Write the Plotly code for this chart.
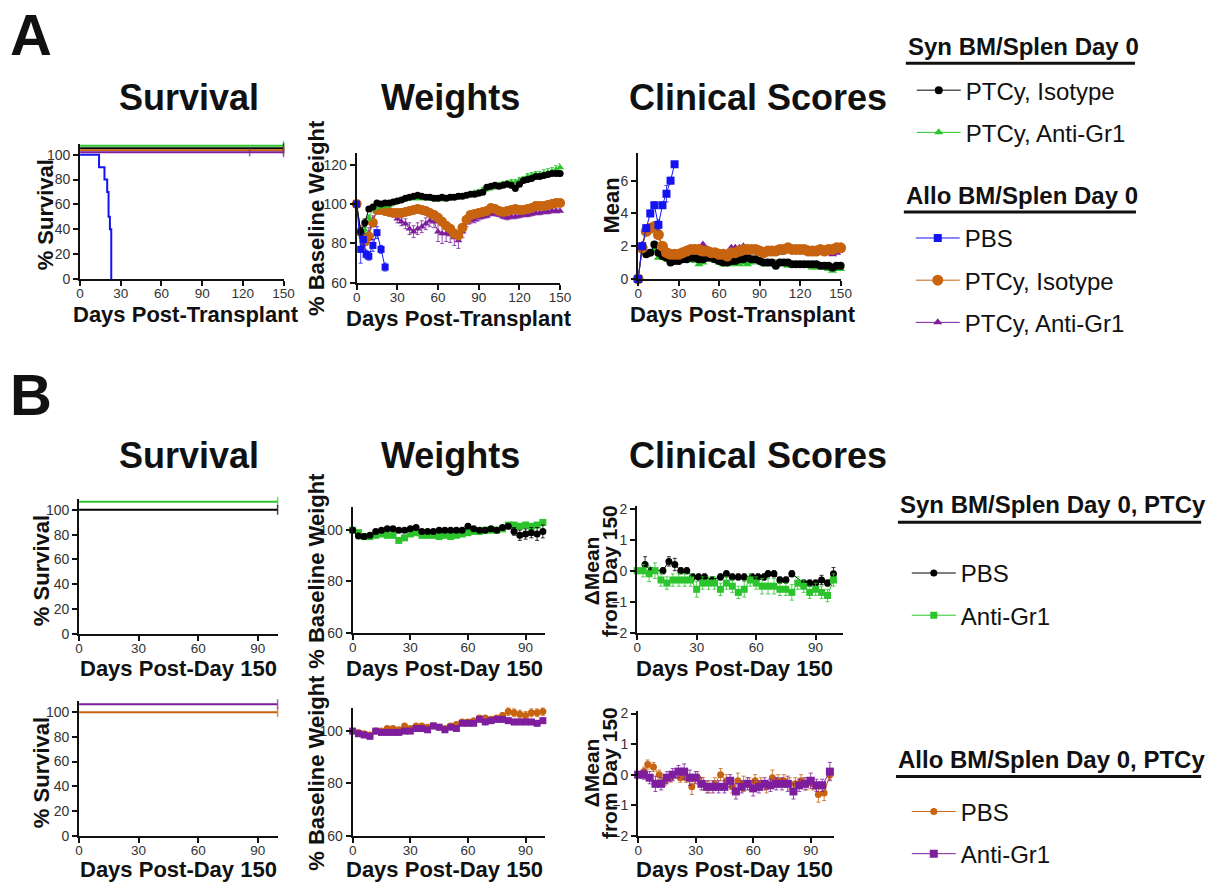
import plotly.graph_objects as go

W, H = 1225, 890
FONT = "Liberation Sans, Arial, sans-serif"

BLACK = "#000000"
GREEN = "#2cc42c"
BLUE = "#1414f0"
ORANGE = "#c8640f"
PURPLE = "#7e1e9e"

# ---------------- Panel A data ----------------
days_A = [0, 3, 6, 9, 12, 15, 18, 21, 24, 27, 30, 33, 36, 39, 42, 45, 48, 51, 54, 57,
          60, 63, 66, 69, 72, 75, 78, 81, 84, 87, 90, 93, 96, 99, 102, 105, 108, 111,
          114, 117, 120, 123, 126, 129, 132, 135, 138, 141, 144, 147, 150]

# survival (displayed % survival, GraphPad-nudged lines)
surv_A_days_flat = [0, 150]
surv_A_syn_iso = [105.3, 105.3]
surv_A_syn_gr1 = [107.2, 107.2]
surv_A_allo_iso = [103.6, 103.6]
surv_A_allo_gr1_days = [0, 125, 150]
surv_A_allo_gr1 = [102.0, 102.0, 102.0]
surv_A_pbs_days = [0, 14, 18, 20, 21, 22, 23]
surv_A_pbs = [100, 90, 80, 70, 50, 40, 0]

# weights (% baseline)
wt_A_syn_iso = [100, 86, 90.5, 97.5, 98.5, 100.5, 100, 100.5, 100.5, 101, 101.5, 102, 103, 103.5,
                104, 104.5, 104, 103.5, 103.5, 103, 103, 103.5, 103, 103.5, 103.5, 104, 104,
                104.5, 105, 105, 105.5, 106, 108.5, 109, 109.5, 109, 109.5, 110, 109.5, 108,
                110, 112, 112.5, 113, 114, 114, 114.5, 115, 115.5, 115.5, 115.5]
wt_A_syn_iso_err = [0, 2, 2, 1, 1, 1, 1, 1, 1, 1, 1, 1, 1, 1, 1, 1, 1, 1, 1, 1, 1, 1, 1, 1, 1, 1,
                    1, 1, 1, 1, 1, 1, 1, 1, 1, 1, 1, 1, 1, 1.5, 1, 1, 1, 1, 1, 1, 1, 1, 1, 1, 1.5]
wt_A_syn_gr1 = [100, 85, 87, 93, 97.5, 98.5, 99, 99, 99.5, 100.5, 101.5, 102, 102.5, 103, 103, 103,
                103, 103.5, 103, 102.5, 102.5, 102.5, 103, 103, 103.5, 103.5, 104, 104.5, 105,
                105.5, 106, 107, 108, 108.5, 109, 109.5, 110, 110.5, 111, 111, 112, 112.5, 114,
                114.5, 115, 115, 115.5, 116, 116.5, 117.5, 118.5]
wt_A_syn_gr1_err = [0, 2, 2, 1.5, 1, 1, 1, 1, 1, 1, 1, 1, 1, 1, 1, 1, 1, 1, 1, 1, 1, 1, 1, 1, 1,
                    1, 1, 1, 1, 1.5, 1.5, 1.5, 1.5, 1.5, 1.5, 1.5, 1.5, 1.5, 1.5, 1.5, 1.5, 1.5,
                    1.5, 1.5, 1.5, 1.5, 2, 2, 2, 2, 2]
wt_A_allo_iso = [100, 86, 81, 83.5, 90.5, 97, 97, 96.5, 96, 95.5, 95.5, 95.5, 96, 96.5, 97, 97.5,
                 97, 96.5, 95.5, 94.5, 93, 91, 89, 87.5, 85, 84, 88, 92, 94.5, 95, 95.5, 96,
                 96.5, 98, 97.5, 96.5, 96, 96.5, 97, 97.5, 97, 97, 97.5, 98, 99, 99, 99, 99.5,
                 100, 100.5, 100.5]
wt_A_allo_gr1 = [100, 86, 80, 85, 92, 96.5, 96.5, 96, 95.5, 95, 92.5, 91, 90, 87.5, 86, 87.5, 88.5,
                 90, 91.5, 91, 86, 85, 85, 84.5, 83, 81.5, 86, 90.5, 91.5, 92, 93, 93.5, 94, 95,
                 95, 94.5, 93.5, 93, 93.5, 93.5, 94, 94.5, 94.5, 95, 95.5, 95.5, 96, 96, 96.5,
                 96.5, 96.5]
wt_A_allo_gr1_err = [0, 3, 3, 3, 2, 1.5, 1.5, 1.5, 1.5, 1.5, 2, 2, 2.5, 3, 3, 3, 3, 3, 3, 3, 5, 5,
                     4, 4, 4, 4, 3, 2, 1.5, 1.5, 1.5, 1, 1, 1, 1, 1, 1, 1, 1, 1, 1, 1, 1, 1, 1, 1,
                     1, 1, 1, 1, 1]
wt_A_pbs_days = [0, 3, 5, 7, 9, 12, 15, 18, 21]
wt_A_pbs = [100, 77, 82, 74.5, 73.5, 79, 85.5, 77, 68]
wt_A_pbs_err = [0, 7, 3, 2, 2, 3, 3, 2, 2]

# clinical score means
cs_A_syn_iso = [0, 1.8, 1.5, 1.6, 2.1, 1.6, 1.4, 1.3, 1.0, 1.1, 1.1, 1.2, 1.2, 1.3, 1.3, 1.2, 1.2,
                1.3, 1.3, 1.2, 1.1, 1.0, 1.0, 1.1, 1.1, 1.2, 1.2, 1.3, 1.2, 1.2, 1.1, 1.0, 1.0,
                1.0, 0.8, 1.0, 1.0, 1.0, 0.9, 0.9, 0.9, 0.9, 0.9, 0.9, 0.9, 0.8, 0.8, 0.8, 0.7,
                0.8, 0.8]
cs_A_syn_gr1 = [0, 2.0, 1.6, 1.6, 1.8, 1.3, 1.3, 1.2, 1.1, 1.1, 1.2, 1.1, 1.2, 1.2, 1.1, 0.9, 1.0,
                1.2, 1.3, 1.1, 1.0, 0.9, 0.9, 0.9, 1.0, 0.9, 1.0, 0.9, 1.0, 1.1, 1.1, 0.9, 0.9,
                0.9, 1.0, 1.0, 0.9, 0.8, 0.9, 0.8, 0.8, 0.8, 0.8, 0.7, 0.7, 0.8, 0.7, 0.6, 0.5,
                0.6, 0.6]
cs_A_allo_iso = [0, 1.9, 2.9, 3.1, 3.2, 2.7, 2.0, 1.6, 1.5, 1.5, 1.5, 1.6, 1.7, 1.8, 1.8, 1.8, 1.7,
                 1.7, 1.6, 1.6, 1.5, 1.5, 1.4, 1.6, 1.6, 1.7, 1.8, 1.8, 1.8, 1.8, 1.7, 1.6, 1.7,
                 1.7, 1.7, 1.8, 1.8, 1.9, 1.8, 1.8, 1.8, 1.8, 1.7, 1.7, 1.7, 1.8, 1.7, 1.8, 1.8,
                 1.9, 1.9]
cs_A_allo_gr1 = [0, 2.1, 2.8, 3.0, 3.0, 2.6, 1.9, 1.6, 1.5, 1.5, 1.6, 1.7, 1.8, 1.9, 1.9, 1.9, 2.1,
                 1.8, 1.7, 1.6, 1.5, 1.6, 1.6, 1.9, 1.9, 1.9, 2.0, 1.9, 1.8, 1.8, 1.7, 1.7, 1.6,
                 1.6, 1.6, 1.6, 1.7, 1.7, 1.8, 1.8, 1.7, 1.7, 1.8, 1.7, 1.6, 1.7, 1.7, 1.8, 1.5,
                 1.6, 1.8]
cs_A_pbs_days = [0, 3, 6, 9, 12, 15, 18, 21, 24, 27]
cs_A_pbs = [0, 2.0, 3.1, 4.0, 4.5, 3.3, 4.5, 5.2, 6.0, 7.0]
cs_A_pbs_err = [0, 0.2, 0.2, 0.2, 0.2, 0.3, 0.2, 0.5, 0.2, 0]

# ---------------- Panel B data ----------------
days_B = [0, 3, 6, 9, 12, 15, 18, 21, 24, 27, 30, 33, 36, 39, 42, 45, 48, 51, 54, 57, 60, 63,
          66, 69, 72, 75, 78, 81, 84, 87, 90, 93, 96, 99]

surv_B_days = [0, 100]
surv_B_syn_pbs = [100, 100]
surv_B_syn_gr1 = [106.5, 106.5]
surv_B_allo_pbs = [100, 100]
surv_B_allo_gr1 = [106.5, 106.5]

wt_B_syn_pbs = [100, 97.7, 97.5, 98, 99.5, 100, 100.5, 100.5, 100, 100, 100.5, 101, 99.5, 99.5,
                99.5, 100, 100, 100, 100, 100, 101.5, 100.5, 100, 100, 100.5, 100, 101, 101.5,
                99.5, 98, 98.5, 99, 98.5, 99.5]
wt_B_syn_pbs_err = [0, 0.5, 0.5, 0.5, 0.5, 0.5, 0.5, 0.5, 0.5, 0.5, 0.5, 0.5, 0.5, 0.5, 0.5, 0.5,
                    0.5, 0.5, 0.5, 0.5, 0.5, 0.5, 0.5, 0.5, 0.5, 0.5, 0.5, 1, 1.5, 2, 2, 2, 2.5, 2.5]
wt_B_syn_gr1 = [100, 99, 97.5, 97.5, 98, 98.5, 98, 98, 96, 97, 98.5, 99, 98, 98, 98, 97.5, 98,
                97.5, 98, 98.5, 99, 99.5, 99.5, 100, 100, 100, 100.5, 102, 102, 101.5, 102,
                101.5, 102, 103]
wt_B_syn_gr1_err = [0, 1, 1, 1, 1, 1, 1, 1, 1, 1, 1, 1, 1, 1, 1, 1, 1, 1, 1, 1, 1, 1, 1, 1, 1, 1,
                    1, 1, 1, 1, 1, 1, 1, 1]
wt_B_allo_pbs = [100, 99.5, 99, 98.5, 100, 100, 101, 101, 100.5, 102, 101, 102, 102, 101.5, 102,
                 101.5, 101, 102, 102.5, 103.5, 103.5, 104, 105, 105, 104.5, 105, 106, 107.5,
                 107, 106.5, 106, 107, 107, 107.5]
wt_B_allo_pbs_err = [0, 0.5, 0.5, 0.5, 0.5, 0.5, 0.5, 0.5, 0.5, 0.5, 0.5, 0.5, 0.5, 0.5, 0.5,
                     0.5, 0.5, 0.5, 0.5, 0.5, 0.5, 0.5, 0.5, 0.5, 0.5, 0.5, 1, 1.5, 1.5, 1.5,
                     1.5, 1.5, 1.5, 1.5]
wt_B_allo_gr1 = [100, 99, 98.5, 98, 100, 99.5, 99.5, 99.5, 99.5, 100, 100, 101, 101, 100.5, 102,
                 101.5, 100.5, 101.5, 101, 103, 103, 103, 104.5, 103.5, 104, 104.5, 104.5, 104,
                 103.5, 103.5, 103.5, 103.5, 103, 104]
wt_B_allo_gr1_err = [0, 0.5, 0.5, 0.5, 0.5, 0.5, 0.5, 0.5, 0.5, 0.5, 0.5, 0.5, 0.5, 0.5, 0.5,
                     0.5, 0.5, 0.5, 0.5, 0.5, 0.5, 0.5, 0.5, 0.5, 0.5, 1, 1, 1, 1, 1, 1, 1, 1, 1]

cs_B_syn_pbs_days = [4, 7, 13, 16, 19, 22, 25, 28, 31, 34, 38, 42, 45, 48, 51, 54, 58, 61, 64,
                     66, 69, 72, 75, 78, 84, 87, 90, 93, 96, 99]
cs_B_syn_pbs = [0.2, 0.0, 0.0, 0.3, 0.2, 0.0, 0.0, -0.2, -0.2, -0.2, -0.3, -0.2, -0.1, -0.2,
                -0.2, -0.2, -0.2, -0.2, -0.2, -0.1, -0.1, -0.3, -0.3, -0.1, -0.4, -0.4, -0.4,
                -0.3, -0.4, -0.1]
cs_B_syn_pbs_err = [0.25, 0.1, 0.1, 0.15, 0.2, 0.1, 0.1, 0.1, 0.1, 0.1, 0.1, 0.1, 0.1, 0.1, 0.1,
                    0.1, 0.1, 0.1, 0.1, 0.1, 0.1, 0.1, 0.1, 0.1, 0.1, 0.1, 0.1, 0.15, 0.1, 0.2]
cs_B_syn_gr1 = [0.0, 0.0, -0.1, 0.0, -0.3, -0.4, -0.3, -0.3, -0.3, -0.3, -0.6, -0.4, -0.4, -0.4,
                -0.6, -0.4, -0.5, -0.7, -0.6, -0.3, -0.4, -0.5, -0.5, -0.5, -0.6, -0.6, -0.7,
                -0.4, -0.5, -0.7, -0.6, -0.7, -0.8, -0.3]
cs_B_syn_gr1_err = [0.1, 0.2, 0.25, 0.25, 0.2, 0.2, 0.2, 0.2, 0.2, 0.2, 0.25, 0.2, 0.2, 0.2, 0.2,
                    0.2, 0.2, 0.2, 0.25, 0.2, 0.2, 0.25, 0.25, 0.25, 0.2, 0.2, 0.25, 0.2, 0.2,
                    0.2, 0.2, 0.2, 0.2, 0.2]
cs_B_allo_pbs_days = [0, 3, 5, 8, 11, 14, 17, 22, 25, 28, 31, 34, 37, 40, 43, 46, 49, 52, 55,
                      58, 61, 64, 67, 70, 73, 76, 79, 82, 85, 88, 91, 94, 97, 100]
cs_B_allo_pbs = [0, 0.1, 0.33, 0.25, 0.0, -0.2, -0.1, -0.1, -0.1, -0.4, -0.1, -0.3, -0.4, -0.3,
                 0.0, -0.2, -0.4, -0.2, -0.3, -0.3, -0.2, -0.3, -0.4, -0.1, -0.2, -0.2, -0.3,
                 -0.3, -0.2, -0.3, -0.3, -0.65, -0.6, 0.0]
cs_B_allo_pbs_err = [0.1, 0.15, 0.15, 0.15, 0.15, 0.15, 0.15, 0.15, 0.15, 0.25, 0.2, 0.2, 0.2,
                     0.2, 0.2, 0.2, 0.2, 0.25, 0.25, 0.2, 0.2, 0.2, 0.2, 0.25, 0.2, 0.2, 0.2,
                     0.2, 0.2, 0.2, 0.2, 0.25, 0.25, 0.15]
cs_B_allo_gr1_days = [0, 3, 6, 9, 12, 15, 18, 21, 24, 27, 30, 33, 36, 39, 42, 45, 48, 51, 54,
                      57, 60, 63, 66, 69, 72, 75, 78, 81, 84, 87, 90, 93, 96, 100]
cs_B_allo_gr1 = [0.0, 0.0, -0.1, -0.3, -0.3, -0.1, 0.0, 0.1, 0.1, -0.1, -0.1, -0.3, -0.4, -0.4,
                 -0.4, -0.4, -0.2, -0.55, -0.4, -0.3, -0.45, -0.4, -0.3, -0.35, -0.3, -0.3,
                 -0.3, -0.55, -0.35, -0.3, -0.2, -0.35, -0.35, 0.1]
cs_B_allo_gr1_err = [0.1, 0.15, 0.2, 0.25, 0.2, 0.2, 0.2, 0.2, 0.25, 0.25, 0.2, 0.2, 0.2, 0.2,
                     0.2, 0.2, 0.2, 0.25, 0.2, 0.2, 0.25, 0.2, 0.2, 0.2, 0.2, 0.2, 0.25, 0.25,
                     0.2, 0.2, 0.25, 0.2, 0.2, 0.3]

# ---------------- layout geometry (pixels) ----------------
panels = {
    1: dict(x=(77, 283), y=(141, 278), xr=[0, 150], yr=[0, 108.7],
            xt=[0, 30, 60, 90, 120, 150], yt=[0, 20, 40, 60, 80, 100]),
    2: dict(x=(357, 563), y=(150, 282), xr=[0, 150], yr=[60, 126],
            xt=[0, 30, 60, 90, 120, 150], yt=[60, 80, 100, 120]),
    3: dict(x=(642, 847), y=(150, 278), xr=[0, 150], yr=[0, 7.7],
            xt=[0, 30, 60, 90, 120, 150], yt=[0, 2, 4, 6]),
    4: dict(x=(76, 277), y=(501, 638), xr=[0, 100], yr=[0, 109],
            xt=[0, 30, 60, 90], yt=[0, 20, 40, 60, 80, 100]),
    5: dict(x=(353, 547.5), y=(509, 637), xr=[0, 100], yr=[60, 109.2],
            xt=[0, 30, 60, 90], yt=[60, 80, 100]),
    6: dict(x=(641, 849), y=(508, 637), xr=[0, 103.6], yr=[-2, 2.1],
            xt=[0, 30, 60, 90], yt=[-2, -1, 0, 1, 2]),
    7: dict(x=(76, 277), y=(706, 843), xr=[0, 100], yr=[0, 109.3],
            xt=[0, 30, 60, 90], yt=[0, 20, 40, 60, 80, 100]),
    8: dict(x=(353, 547.5), y=(713, 843), xr=[0, 100], yr=[60, 109],
            xt=[0, 30, 60, 90], yt=[60, 80, 100]),
    9: dict(x=(642, 840), y=(716, 843), xr=[0, 102], yr=[-2, 2.1],
            xt=[0, 30, 60, 90], yt=[-2, -1, 0, 1, 2]),
}

fig = go.Figure()

layout_axes = {}
for i, p in panels.items():
    sx = "" if i == 1 else str(i)
    axis_common = dict(showline=True, linecolor="#111", linewidth=2, ticks="outside",
                       ticklen=5, tickwidth=2, tickcolor="#111", showgrid=False,
                       zeroline=False, fixedrange=True)
    layout_axes["xaxis" + sx] = dict(domain=[p["x"][0] / W, p["x"][1] / W], range=p["xr"],
                                     tickvals=p["xt"], anchor="y" + sx, ticklabelstandoff=-4,
                                     tickfont=dict(family=FONT, size=13.5, color="#333"),
                                     **axis_common)
    layout_axes["yaxis" + sx] = dict(domain=[1 - p["y"][1] / H, 1 - p["y"][0] / H],
                                     range=p["yr"], tickvals=p["yt"], anchor="x" + sx,
                                     ticklabelstandoff=0,
                                     tickfont=dict(family=FONT, size=14, color="#333"),
                                     **axis_common)


def ax(i):
    s = "" if i == 1 else str(i)
    return "x" + s, "y" + s


def add(panel, x, y, color, symbol=None, size=7, name="", legend=None, group=None,
        err=None, shape="linear", lw=1.0, mode="lines+markers", msizes=None, mline=0,
        rank=None):
    xa, ya = ax(panel)
    tr = dict(x=x, y=y, xaxis=xa, yaxis=ya, mode=mode, name=name, cliponaxis=False,
              line=dict(color=color, width=lw, shape=shape), showlegend=legend is not None,
              legendgroup=group, hoverinfo="x+y+name")
    if legend is not None:
        tr["legend"] = legend
    if rank is not None:
        tr["legendrank"] = rank
    if symbol is not None or msizes is not None:
        tr["marker"] = dict(color=color, symbol=symbol, size=msizes if msizes is not None else size,
                            line=dict(width=mline, color=color))
    if err is not None:
        tr["error_y"] = dict(type="data", array=err, color=color, thickness=0.8, width=2)
    fig.add_trace(go.Scatter(**tr))


# ---- Panel A survival (step lines with censor ticks)
add(1, surv_A_days_flat, surv_A_syn_gr1, GREEN, "line-ns", mode="lines+markers", lw=2,
    msizes=[0, 7], mline=1.5, group="a_syn_gr1")
add(1, surv_A_days_flat, surv_A_syn_iso, BLACK, "line-ns", mode="lines+markers", lw=2,
    msizes=[0, 7], mline=1.5, group="a_syn_iso")
add(1, surv_A_days_flat, surv_A_allo_iso, ORANGE, "line-ns", mode="lines+markers", lw=2,
    msizes=[0, 7], mline=1.5, group="a_allo_iso")
add(1, surv_A_allo_gr1_days, surv_A_allo_gr1, PURPLE, "line-ns", mode="lines+markers", lw=2,
    msizes=[0, 6, 7], mline=1.5, group="a_allo_gr1")
add(1, surv_A_pbs_days, surv_A_pbs, BLUE, None, mode="lines", lw=2, shape="hv", group="a_pbs")

# ---- Panel A weights
add(2, days_A, wt_A_allo_gr1, PURPLE, "triangle-up", 7, err=wt_A_allo_gr1_err, group="a_allo_gr1")
add(2, days_A, wt_A_allo_iso, ORANGE, "circle", 10, group="a_allo_iso")
add(2, days_A, wt_A_syn_gr1, GREEN, "triangle-up", 7, err=wt_A_syn_gr1_err, group="a_syn_gr1")
add(2, days_A, wt_A_syn_iso, BLACK, "circle", 7, err=wt_A_syn_iso_err, group="a_syn_iso")
add(2, wt_A_pbs_days, wt_A_pbs, BLUE, "square", 7, err=wt_A_pbs_err, group="a_pbs")

# ---- Panel A clinical scores (legend entries come from here)
add(3, days_A, cs_A_syn_gr1, GREEN, "triangle-up", 8, name="PTCy, Anti-Gr1",
    legend="legend", group="a_syn_gr1", rank=2)
add(3, days_A, cs_A_syn_iso, BLACK, "circle", 8, name="PTCy, Isotype",
    legend="legend", group="a_syn_iso", rank=1)
add(3, days_A, cs_A_allo_gr1, PURPLE, "triangle-up", 8, name="PTCy, Anti-Gr1",
    legend="legend2", group="a_allo_gr1", rank=3)
add(3, days_A, cs_A_allo_iso, ORANGE, "circle", 11, name="PTCy, Isotype",
    legend="legend2", group="a_allo_iso", rank=2)
add(3, cs_A_pbs_days, cs_A_pbs, BLUE, "square", 8, name="PBS", err=cs_A_pbs_err,
    legend="legend2", group="a_pbs", rank=1)

# ---- Panel B survival
add(4, surv_B_days, surv_B_syn_gr1, GREEN, "line-ns", mode="lines+markers", lw=2,
    msizes=[0, 7], mline=1.5, group="b_syn_gr1")
add(4, surv_B_days, surv_B_syn_pbs, BLACK, "line-ns", mode="lines+markers", lw=2,
    msizes=[0, 7], mline=1.5, group="b_syn_pbs")
add(7, surv_B_days, surv_B_allo_gr1, PURPLE, "line-ns", mode="lines+markers", lw=2,
    msizes=[0, 7], mline=1.5, group="b_allo_gr1")
add(7, surv_B_days, surv_B_allo_pbs, ORANGE, "line-ns", mode="lines+markers", lw=2,
    msizes=[0, 7], mline=1.5, group="b_allo_pbs")

# ---- Panel B weights
add(5, days_B, wt_B_syn_gr1, GREEN, "square", 7, err=wt_B_syn_gr1_err, group="b_syn_gr1")
add(5, days_B, wt_B_syn_pbs, BLACK, "circle", 7, err=wt_B_syn_pbs_err, group="b_syn_pbs")
add(8, days_B, wt_B_allo_pbs, ORANGE, "circle", 7, err=wt_B_allo_pbs_err, group="b_allo_pbs")
add(8, days_B, wt_B_allo_gr1, PURPLE, "square", 7, err=wt_B_allo_gr1_err, group="b_allo_gr1")

# ---- Panel B clinical scores (legend entries)
add(6, cs_B_syn_pbs_days, cs_B_syn_pbs, BLACK, "circle", 7, name="PBS", err=cs_B_syn_pbs_err,
    legend="legend3", group="b_syn_pbs", rank=1)
add(6, days_B, cs_B_syn_gr1, GREEN, "square", 7, name="Anti-Gr1", err=cs_B_syn_gr1_err,
    legend="legend3", group="b_syn_gr1", rank=2)
add(9, cs_B_allo_pbs_days, cs_B_allo_pbs, ORANGE, "circle", 7, name="PBS", err=cs_B_allo_pbs_err,
    legend="legend4", group="b_allo_pbs", rank=1)
add(9, cs_B_allo_gr1_days, cs_B_allo_gr1, PURPLE, "square", 8, name="Anti-Gr1",
    err=cs_B_allo_gr1_err, legend="legend4", group="b_allo_gr1", rank=2)

# ---------------- text ----------------
ann = []


def text(x, y, s, size, bold=True, angle=0, color="#111", xanchor="center"):
    ann.append(dict(x=x / W, y=1 - y / H, xref="paper", yref="paper", text=s, showarrow=False,
                    textangle=angle, xanchor=xanchor, yanchor="middle",
                    font=dict(family=FONT, size=size, color=color,
                              weight="bold" if bold else "normal")))


text(27, 30, "A", 58)
text(27, 395, "B", 58)
for yy in (94, 457):
    text(187, yy, "Survival", 36)
    text(452, yy, "Weights", 36)
    text(763, yy, "Clinical Scores", 36)

text(184, 314, "Days Post-Transplant", 22)
text(461, 318, "Days Post-Transplant", 22)
text(748, 314, "Days Post-Transplant", 22)
text(42, 213, "% Survival", 22, angle=-90)
text(317, 216, "% Baseline Weight", 22, angle=-90)
text(615, 203, "Mean", 22, angle=-90)

for yy, yl in ((673, 574), (877, 779)):
    text(177, yy, "Days Post-Day 150", 22)
    text(446, yy, "Days Post-Day 150", 22)
    text(740, yy, "Days Post-Day 150", 22)
    text(38, yl, "% Survival", 22, angle=-90)
    text(316, yl, "% Baseline Weight", 22, angle=-90)
    text(595, yl, "\u0394Mean", 21, angle=-90)
    text(613, yl, "from Day 150", 21, angle=-90)

# legend headers (text) with thick underlines
text(913, 42, "Syn BM/Splen Day 0", 24, xanchor="left")
text(911, 193, "Allo BM/Splen Day 0", 24, xanchor="left")
text(905, 507, "Syn BM/Splen Day 0, PTCy", 24, xanchor="left")
text(903, 766, "Allo BM/Splen Day 0, PTCy", 24, xanchor="left")

shapes = []
for x0, x1, yy in ((913, 1145, 59), (911, 1146, 210), (905, 1212, 525), (903, 1212, 783)):
    shapes.append(dict(type="line", xref="paper", yref="paper", x0=x0 / W, x1=x1 / W,
                       y0=1 - yy / H, y1=1 - yy / H, line=dict(color="#111", width=3)))


def legend_cfg(left, top):
    return dict(x=left / W, y=1 - top / H, xanchor="left", yanchor="top",
                bgcolor="rgba(0,0,0,0)", borderwidth=0, itemwidth=44,
                tracegroupgap=8, traceorder="grouped", itemclick=False,
                itemdoubleclick=False,
                font=dict(family=FONT, size=24, color="#111"))


fig.update_layout(
    width=W, height=H, margin=dict(l=0, r=0, t=0, b=0),
    paper_bgcolor="white", plot_bgcolor="white",
    font=dict(family=FONT, color="#111"),
    annotations=ann, shapes=shapes,
    legend=legend_cfg(919, 64),
    legend2=legend_cfg(918, 214),
    legend3=legend_cfg(914, 554),
    legend4=legend_cfg(914, 796),
    **layout_axes,
)

fig.write_html("out.html", config={"displayModeBar": False},
               post_script="document.body.style.margin='0';")
